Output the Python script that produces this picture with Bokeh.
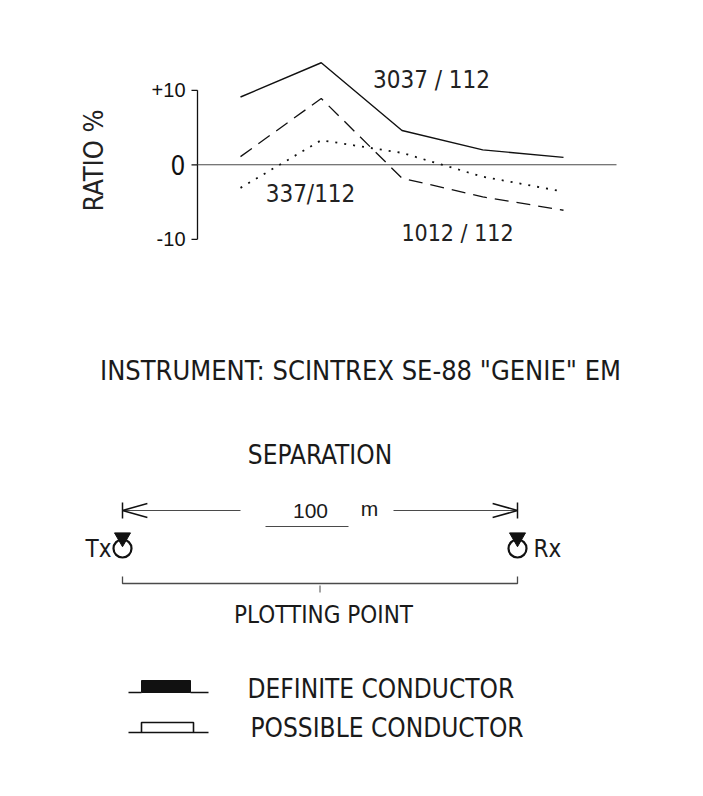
import math
from bokeh.plotting import figure
from bokeh.models import Range1d, ColumnDataSource
from bokeh.embed import file_html
from bokeh.resources import INLINE
from bokeh.core.properties import value

# ---------------- data ----------------
stations = [1, 2, 3, 4, 5]
ratio_3037 = [9.1, 13.7, 4.6, 2.0, 1.0]
ratio_1012 = [1.1, 8.9, -1.8, -4.3, -6.1]
ratio_337 = [-3.1, 3.3, 1.6, -1.6, -3.6]
series_labels = ["3037 / 112", "1012 / 112", "337/112"]
y_ticks = [-10, 0, 10]
y_tick_labels = ["-10", "0", "+10"]
y_title = "RATIO %"

separation_m = 100
tx_m = 0
rx_m = 100
plotting_point_m = 50

FONT = "DejaVu Sans Condensed, Liberation Sans Narrow, Liberation Sans, sans-serif"
ROUND = "Liberation Sans"
INK = "#111111"
GREY = "#4a4a4a"

# ---------------- scales (screenshot pixel frame) ----------------
W, H = 687, 780
X0, Y0 = 0, 0                      # canvas origin in screenshot pixels
ST_PX, ST0_PX = 80.75, 240         # chart: px per station, px of station 1
R_PX, R0_PX = 7.45, 164.3          # chart: px per ratio unit, px of ratio 0
M_PX, M0_PX = 3.95, 122            # diagram: px per metre, px of Tx


def st(px):
    return 1 + (px - ST0_PX) / ST_PX


def rt(py):
    return (R0_PX - py) / R_PX


def m(px):
    return (px - M0_PX) / M_PX


p = figure(width=W, height=H, x_range=Range1d(X0, X0 + W), y_range=Range1d(Y0 + H, Y0),
           output_backend="svg", toolbar_location=None, min_border=0,
           x_axis_location=None, y_axis_location=None)
p.grid.visible = False
p.outline_line_color = None
p.extra_x_ranges = {"st": Range1d(st(X0), st(X0 + W)), "m": Range1d(m(X0), m(X0 + W))}
p.extra_y_ranges = {"ratio": Range1d(rt(Y0 + H), rt(Y0))}

CH = dict(x_range_name="st", y_range_name="ratio")

# ---------------- chart ----------------
s_axis = st(197)
s_end = st(616)
tick = 6 / ST_PX
p.segment(x0=[s_axis], y0=[min(y_ticks)], x1=[s_axis], y1=[max(y_ticks)],
          line_color=INK, line_width=1.3, **CH)
p.segment(x0=[s_axis - tick] * len(y_ticks), y0=y_ticks, x1=[s_axis] * len(y_ticks), y1=y_ticks,
          line_color=INK, line_width=1.3, **CH)
p.segment(x0=[s_axis], y0=[0], x1=[s_end], y1=[0], line_color=GREY, line_width=1.1, **CH)

tick_src = ColumnDataSource(dict(
    x=[s_axis - 12 / ST_PX] * len(y_ticks), y=y_ticks, text=y_tick_labels,
    size=["26px" if t == 0 else "20px" for t in y_ticks],
    font=[FONT if t == 0 else ROUND for t in y_ticks]))
p.text(x="x", y="y", text="text", source=tick_src, text_font="font",
       text_font_size="size", text_color=INK,
       text_align="right", text_baseline="middle", **CH)
p.text(x=[st(93)], y=[rt(160)], text=[y_title], angle=math.pi / 2,
       text_font=value(FONT), text_font_size="27px", text_color="#222222",
       text_align="center", text_baseline="middle", **CH)

p.line(stations, ratio_3037, line_color=INK, line_width=1.4, **CH)
p.line(stations, ratio_1012, line_color=INK, line_width=1.3, line_dash="14 8", **CH)
p.line(stations, ratio_337, line_color=INK, line_width=1.8, line_dash="2 7", **CH)

lab_src = ColumnDataSource(dict(
    x=[st(431), st(457), st(310)], y=[rt(79), rt(232), rt(193.5)], text=series_labels,
    size=["24px", "23px", "24px"]))
p.text(x="x", y="y", text="text", source=lab_src, text_font=value(FONT),
       text_font_size="size", text_color="#222222",
       text_align="center", text_baseline="middle", **CH)

# ---------------- instrument diagram ----------------
DG = dict(x_range_name="m")


def txt(x, y, s, size="26px", align="center", font=FONT):
    p.text(x=[x], y=[y], text=[s], text_font=value(font), text_font_size=size,
           text_color="#1a1a1a", text_align=align, text_baseline="middle", **DG)


txt(m(360), 369.5, "INSTRUMENT: SCINTREX SE-88 \"GENIE\" EM", "27px")
txt((tx_m + rx_m) / 2, 454, "SEPARATION", "26px")

# separation arrow
ay = 510
p.segment(x0=[tx_m, rx_m], y0=[ay - 8, ay - 8], x1=[tx_m, rx_m], y1=[ay + 8, ay + 8],
          line_color=INK, line_width=1.5, **DG)
p.segment(x0=[tx_m, m(393)], y0=[ay, ay], x1=[m(240), rx_m], y1=[ay, ay],
          line_color=GREY, line_width=1.1, **DG)
p.segment(x0=[tx_m, tx_m, rx_m, rx_m], y0=[ay, ay, ay, ay],
          x1=[tx_m + 6.3, tx_m + 6.3, rx_m - 6.3, rx_m - 6.3],
          y1=[ay - 7, ay + 7, ay - 7, ay + 7], line_color=INK, line_width=1.5, **DG)
txt(m(310), ay, str(separation_m), "21px", font=ROUND)
txt(m(369), ay - 2, "m", "21px", font=ROUND)
p.segment(x0=[m(265)], y0=[526], x1=[m(348)], y1=[526], line_color=GREY, line_width=1, **DG)

# Tx / Rx symbols
p.scatter(x=[tx_m, rx_m], y=[548, 548], marker="circle", size=18,
          fill_color="white", line_color=INK, line_width=2.2, **DG)
p.scatter(x=[tx_m, rx_m], y=[537, 537], marker="inverted_triangle", size=16,
          fill_color=INK, line_color=INK, **DG)
txt(m(111), 548, "Tx", "24px", align="right")
txt(m(533), 548, "Rx", "24px", align="left")

# plotting-point bracket
p.line(x=[tx_m, tx_m, rx_m, rx_m], y=[576, 583, 583, 576], line_color=GREY, line_width=1.3, **DG)
p.segment(x0=[plotting_point_m], y0=[585], x1=[plotting_point_m], y1=[592],
          line_color=GREY, line_width=1, **DG)
txt(m(323), 614, "PLOTTING POINT", "24px")

# legend
p.segment(x0=[m(128), m(190)], y0=[692, 692], x1=[m(141), m(208)], y1=[692, 692],
          line_color=INK, line_width=1.3, **DG)
p.quad(left=[m(141)], right=[m(190)], top=[680], bottom=[692],
       fill_color=INK, line_color=INK, **DG)
txt(m(247), 688, "DEFINITE CONDUCTOR", "26px", align="left")

p.segment(x0=[m(128), m(193)], y0=[732, 732], x1=[m(141), m(208)], y1=[732, 732],
          line_color=INK, line_width=1.3, **DG)
p.quad(left=[m(141)], right=[m(193)], top=[722], bottom=[732],
       fill_color=None, line_color=INK, line_width=1.6, **DG)
txt(m(250), 727, "POSSIBLE CONDUCTOR", "26px", align="left")

open("out.html", "w").write(file_html(p, INLINE))
